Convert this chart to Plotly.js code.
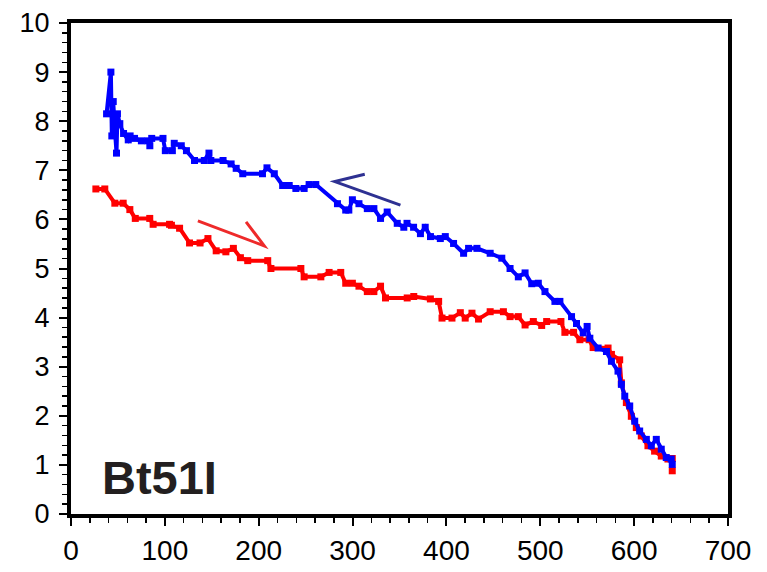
<!DOCTYPE html>
<html>
<head>
<meta charset="utf-8">
<script src="https://cdn.plot.ly/plotly-3.0.1.min.js"></script>
<style>html,body{margin:0;padding:0;background:#fff;}#chart{width:767px;height:572px;}</style>
</head>
<body>
<div id="chart"></div>
<script>
// Blue series (upper curve)
const blueX = [37.9,42.5,43.5,45.0,46.5,48.5,49.5,52,56,61,63,67.7,75,82,84,86,98,100.5,108,110,117.5,123,131.6,142,147,149,162,170.6,176,183,204,208.8,216.6,225.5,232.5,239.6,248.4,253.7,260.8,283.9,292.7,296,299.8,306.8,315.7,322.7,329.8,336.9,347.6,354.6,358,365,372.3,377.4,383,393.5,398.8,407.6,418.3,423.6,432.5,446.6,459,467.8,476.6,483.8,490.9,497.9,505,515.6,520.9,533.3,538.6,545.7,549.9,552.8,561.6,570.5,575.8,582.8,586.4,590,595.3,600.6,605.9,613,618.3,623.6,628.9,634.2,639.5,640.6];
const blueY = [8.15,9.0,7.7,8.4,7.9,7.35,8.15,7.95,7.75,7.62,7.7,7.65,7.6,7.6,7.5,7.65,7.65,7.4,7.4,7.55,7.5,7.4,7.2,7.2,7.35,7.2,7.2,7.13,7.04,6.93,6.93,7.05,6.93,6.69,6.69,6.63,6.63,6.71,6.71,6.32,6.19,6.19,6.40,6.32,6.22,6.22,6.02,6.15,5.92,5.84,5.92,5.84,5.71,5.84,5.65,5.61,5.65,5.51,5.31,5.41,5.41,5.31,5.21,5.0,4.83,4.91,4.69,4.70,4.53,4.33,4.33,4.02,3.88,3.69,3.82,3.58,3.38,3.31,3.11,2.91,2.64,2.40,2.20,1.89,1.69,1.52,1.39,1.52,1.32,1.15,1.12,1.01];
// Red series (lower curve)
const redX = [26.5,36,46.7,55.6,62.7,68.5,83.9,87.5,105,107,115.7,126.3,137.5,145.9,154.7,165,173,180.5,188.3,209.6,213,244.9,248.4,266.2,275,287.4,292.7,299.8,306.8,315.7,322.7,329.8,335.1,358.2,365.2,382.9,391.7,395.3,405.9,414.8,420,427.2,434.2,446.6,460.7,467.8,476.6,483.8,492.6,501.5,506.8,522,526.2,535.5,542.2,552,556.3,572.2,575.8,584.6,586.4,591.7,597,602.3,607.6,614.7,621.8,628.9,636,640.6,640.6];
const redY = [6.62,6.62,6.33,6.33,6.2,6.02,6.02,5.9,5.9,5.88,5.82,5.52,5.52,5.61,5.36,5.34,5.41,5.22,5.16,5.16,5.0,5.0,4.83,4.83,4.92,4.92,4.70,4.70,4.64,4.53,4.53,4.64,4.40,4.40,4.43,4.38,4.33,3.99,3.99,4.10,3.99,4.09,3.97,4.12,4.12,4.02,4.02,3.85,3.92,3.84,3.92,3.92,3.70,3.70,3.55,3.55,3.39,3.38,3.25,3.14,2.67,2.27,1.99,1.76,1.59,1.39,1.28,1.18,1.12,1.13,0.88];
const xTicks = [0,100,200,300,400,500,600,700];
const yTicks = [0,1,2,3,4,5,6,7,8,9,10];
const label = "Bt51I";

const font = "Liberation Sans, Arial, sans-serif";
const traces = [
  {x: redX, y: redY, type: 'scatter', mode: 'lines+markers',
   line: {color: '#ff0000', width: 4}, marker: {symbol: 'square', size: 7, color: '#ff0000'}},
  {x: blueX, y: blueY, type: 'scatter', mode: 'lines+markers',
   line: {color: '#0000ff', width: 4}, marker: {symbol: 'square', size: 7, color: '#0000ff'}}
];
const axisCommon = {
  showgrid: false, zeroline: false, showline: true, linewidth: 4, linecolor: '#000', mirror: true,
  ticks: 'outside', ticklen: 8, tickwidth: 2, tickcolor: '#000'
};
const layout = {
  width: 767, height: 572,
  margin: {l: 71, r: 39, t: 23, b: 58},
  paper_bgcolor: '#fff', plot_bgcolor: '#fff',
  showlegend: false,
  xaxis: Object.assign({}, axisCommon, {
    range: [0, 700], tickvals: xTicks, ticktext: xTicks.map(String),
    tickfont: {family: font, size: 28, color: '#000'},
    minor: {dtick: 20, tick0: 0, ticks: 'outside', ticklen: 5, tickwidth: 1.5, tickcolor: '#000'}
  }),
  yaxis: Object.assign({}, axisCommon, {
    range: [0, 10], tickvals: yTicks, ticktext: yTicks.map(String),
    tickfont: {family: font, size: 27, color: '#000'},
    ticklabelstandoff: 4,
    minor: {dtick: 0.2, tick0: 0, ticks: 'outside', ticklen: 5, tickwidth: 1.5, tickcolor: '#000'}
  }),
  shapes: [
    {type: 'path', xref: 'x', yref: 'y', path: 'M 351,6.29 L 281,6.77 L 313,6.92',
     line: {color: '#2e3192', width: 3}},
    {type: 'path', xref: 'x', yref: 'y', path: 'M 135.2,5.97 L 206,5.46 L 186.5,5.95',
     line: {color: '#ee2a2a', width: 3}}
  ],
  annotations: [
    {text: label, xref: 'paper', yref: 'paper', x: 0.044, y: 0.075, xanchor: 'left', yanchor: 'middle',
     showarrow: false, font: {family: font, size: 47, color: '#231f20', weight: 'bold'}}
  ]
};
Plotly.newPlot('chart', traces, layout, {displayModeBar: false, staticPlot: true});
</script>
</body>
</html>
